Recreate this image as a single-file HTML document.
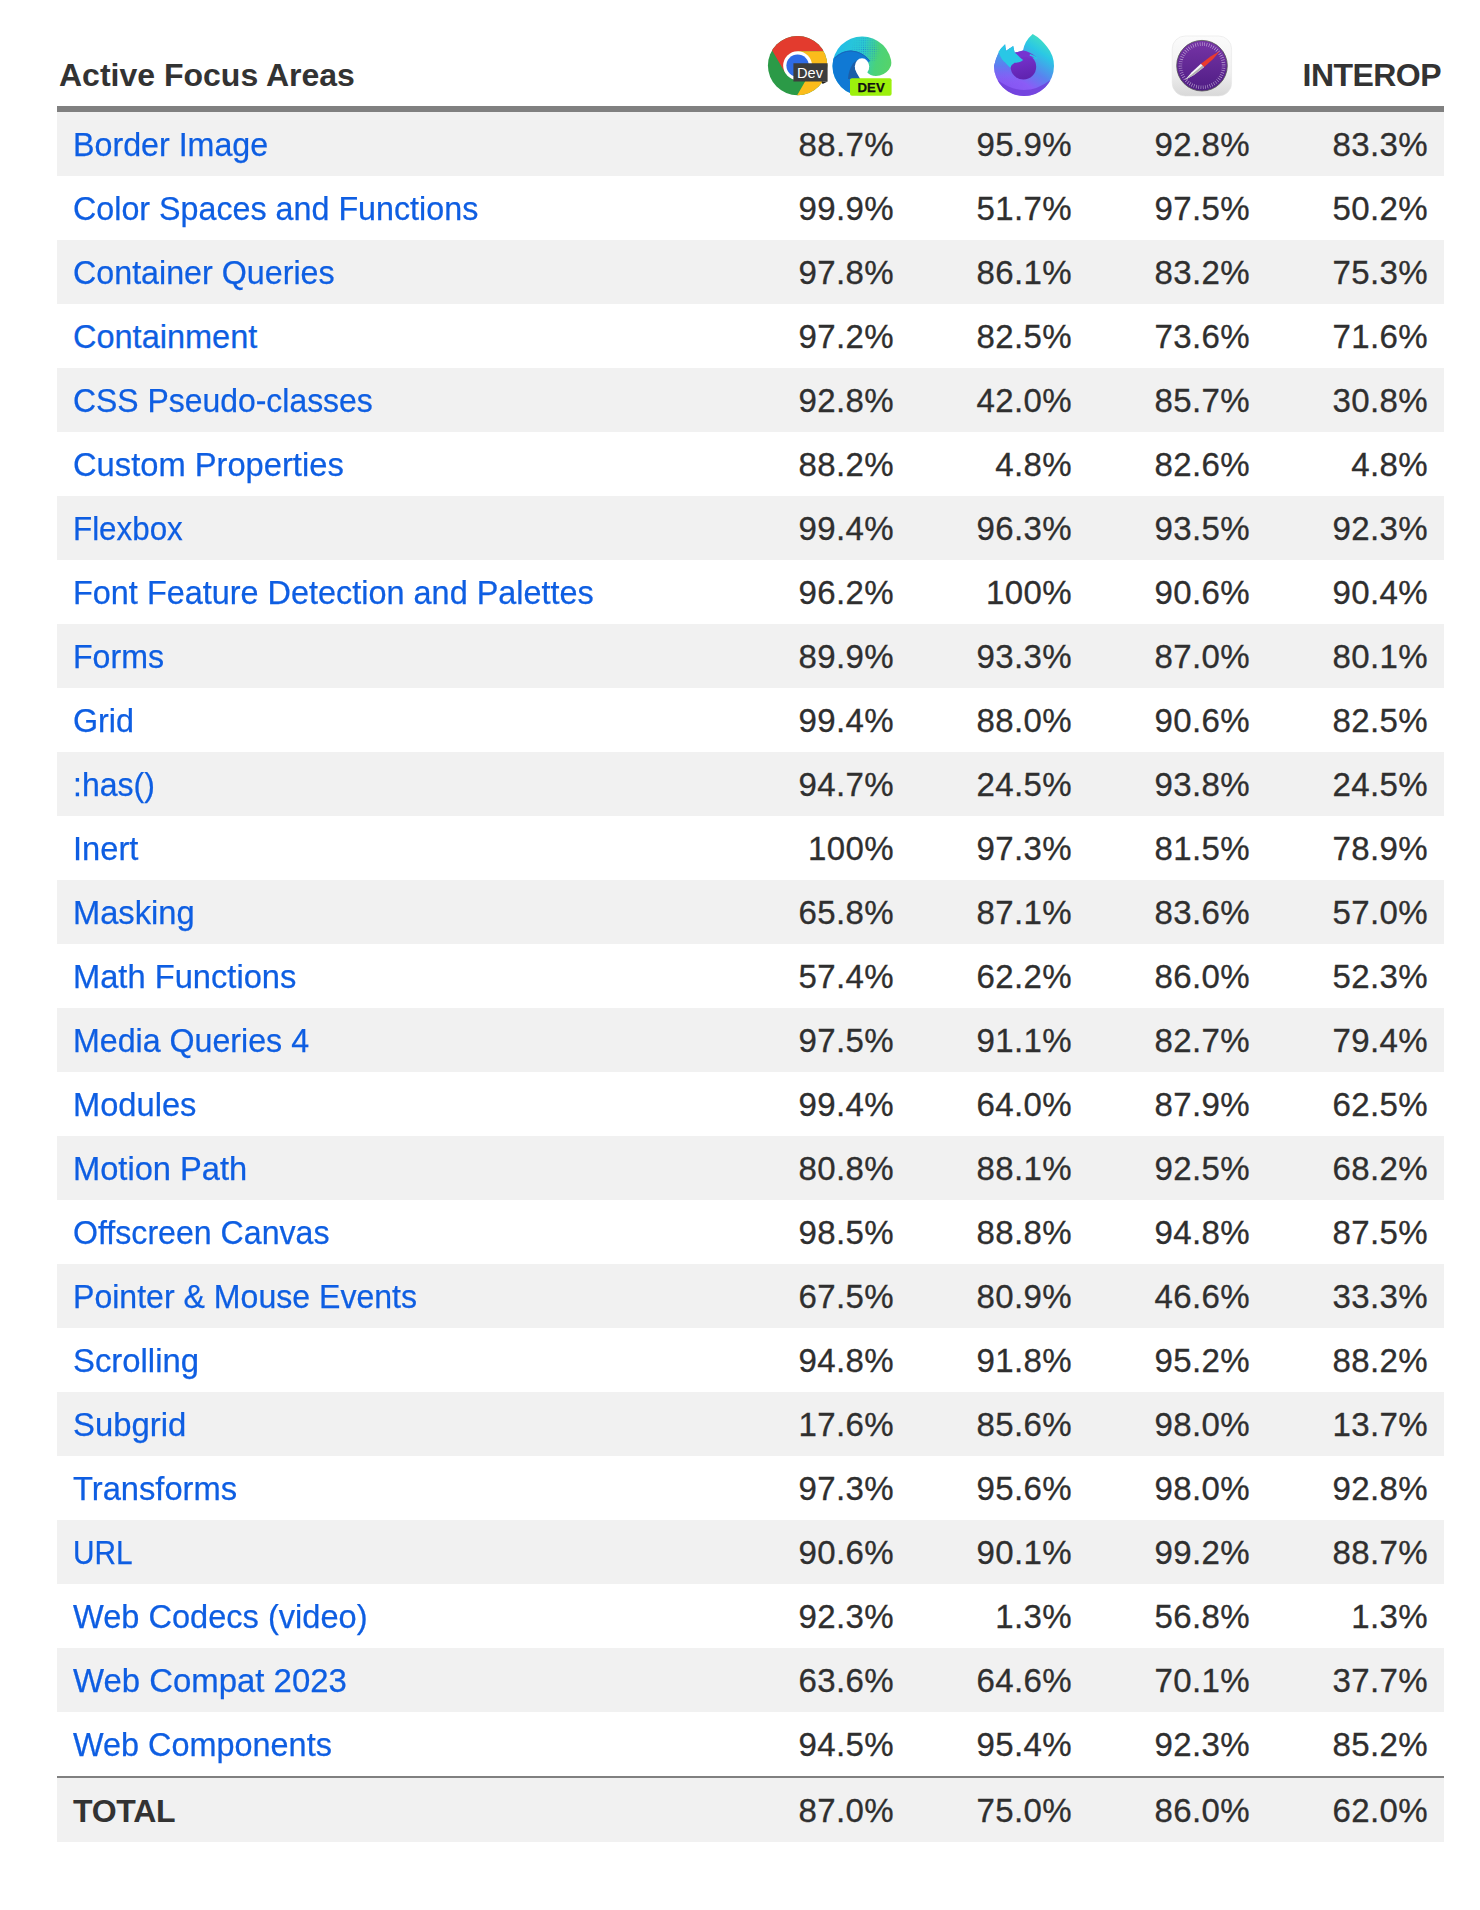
<!DOCTYPE html>
<html><head><meta charset="utf-8">
<style>
html,body{margin:0;padding:0;background:#fff;overflow:hidden;}
body{width:1480px;height:1910px;position:relative;overflow:hidden;font-family:"Liberation Sans",sans-serif;font-size:32px;color:#333;}
.hd{position:absolute;font-weight:bold;color:#333;line-height:1;}
.icons{position:absolute;left:0;top:0;}
.line{position:absolute;left:57px;width:1387px;top:106px;height:6px;background:#808080;}
.tbl{position:absolute;left:57px;top:112px;width:1387px;}
.r{position:relative;height:64px;}
.g{background:#f1f1f1;}
.w{background:#fff;}
.r>*{position:absolute;top:0;line-height:64px;white-space:nowrap;}
.n{-webkit-text-stroke:0.25px #0e5ee2;transform-origin:0 50%;left:16px;color:#0e5ee2;text-decoration:none;letter-spacing:0px;font-size:32.5px;top:1px;}
.tot{border-top:2px solid #808080;}
.tot .n{-webkit-text-stroke:0px;color:#333;font-weight:bold;font-size:32px;letter-spacing:-0.3px;}
.c1,.c2,.c3,.c4{-webkit-text-stroke:0.3px #2f2f2f;top:1px;text-align:right;letter-spacing:0.4px;font-size:33px;color:#2f2f2f;}
.c1{right:550px;}
.c2{right:372px;}
.c3{right:194px;}
.c4{right:16px;}
</style></head><body>
<div class="hd" style="left:59px;top:59px;">Active Focus Areas</div>
<div class="hd" style="right:39px;top:59px;letter-spacing:-0.55px;">INTEROP</div>
<svg class="icons" width="1480" height="106" viewBox="0 0 1480 106">
<defs>
<clipPath id="cc"><circle cx="797.6" cy="65.6" r="29.7"/></clipPath>
<clipPath id="ec"><circle cx="862.1" cy="66" r="29.6"/></clipPath>
<linearGradient id="eg" x1="838" y1="50" x2="890" y2="62" gradientUnits="userSpaceOnUse">
<stop offset="0" stop-color="#22bde7"/><stop offset="0.45" stop-color="#2ccbd0"/><stop offset="0.75" stop-color="#4ad27a"/><stop offset="1" stop-color="#55d36b"/></linearGradient>
<linearGradient id="fg" x1="1046" y1="38" x2="1008" y2="96" gradientUnits="userSpaceOnUse">
<stop offset="0" stop-color="#45e3bf"/><stop offset="0.22" stop-color="#2ac7e5"/><stop offset="0.5" stop-color="#5a82ef"/><stop offset="0.72" stop-color="#8b5cf6"/><stop offset="0.9" stop-color="#8656f2"/><stop offset="1" stop-color="#6d3ed6"/></linearGradient>
<linearGradient id="fs" x1="1020" y1="52" x2="1026" y2="80" gradientUnits="userSpaceOnUse">
<stop offset="0" stop-color="#7a34d2"/><stop offset="1" stop-color="#5e22ad"/></linearGradient>
<linearGradient id="sq" x1="0" y1="36" x2="0" y2="96" gradientUnits="userSpaceOnUse">
<stop offset="0" stop-color="#fbfbfb"/><stop offset="0.6" stop-color="#f0f0f0"/><stop offset="1" stop-color="#d8d8d8"/></linearGradient>
<linearGradient id="sp" x1="0" y1="41" x2="0" y2="91" gradientUnits="userSpaceOnUse">
<stop offset="0" stop-color="#7634a6"/><stop offset="1" stop-color="#4f1d84"/></linearGradient>
<clipPath id="fc"><path d="M994 66 A30 30 0 0 0 1054 66 A30 30 0 0 0 1047.2 47 Q1041 38.5 1032.7 33.9 Q1024.5 41 1023 50.5 L1014.6 52.8 L1013.2 46.1 L1005.9 51 L1005.1 44.2 Q997 52 994 66 Z"/></clipPath>
<linearGradient id="fl" x1="0" y1="50" x2="0" y2="86" gradientUnits="userSpaceOnUse">
<stop offset="0" stop-color="#3aa8ea" stop-opacity="1"/><stop offset="0.45" stop-color="#5f7cf0" stop-opacity="1"/><stop offset="1" stop-color="#8b5cf6" stop-opacity="0"/></linearGradient>
<linearGradient id="flh" x1="990" y1="0" x2="1024" y2="0" gradientUnits="userSpaceOnUse">
<stop offset="0" stop-color="#fff" stop-opacity="1"/><stop offset="0.6" stop-color="#fff" stop-opacity="1"/><stop offset="1" stop-color="#fff" stop-opacity="0"/></linearGradient>
<mask id="fm"><rect x="980" y="30" width="80" height="70" fill="url(#flh)"/></mask>
<pattern id="dots" x="0" y="0" width="2.2" height="2.2" patternUnits="userSpaceOnUse"><circle cx="1.1" cy="1.1" r="0.55" fill="#1c6fd2"/></pattern>
<radialGradient id="dfade" cx="866" cy="50" r="15" gradientUnits="userSpaceOnUse"><stop offset="0" stop-color="#fff" stop-opacity="0.75"/><stop offset="0.6" stop-color="#fff" stop-opacity="0.5"/><stop offset="1" stop-color="#fff" stop-opacity="0"/></radialGradient>
<mask id="dm"><rect x="840" y="30" width="60" height="50" fill="url(#dfade)"/></mask>
</defs>
<!-- Chrome Dev -->
<g clip-path="url(#cc)">
<rect x="760" y="30" width="80" height="80" fill="#2b9a47"/>
<polygon points="797.6,51.15 860,51.15 860,0 743,0 785.09,72.83" fill="#e33b2e"/>
<polygon points="797.6,51.15 860,51.15 860,130 777.1,130 810.11,72.83" fill="#fbbc1b"/>
</g>
<circle cx="797.6" cy="65.6" r="14.45" fill="#fff"/>
<circle cx="797.6" cy="65.6" r="11.2" fill="#2f6be6"/>
<path d="M793.4 63.2 H827.6 V81.6 H793.4 Z" fill="#3d3d3d"/>
<path d="M821.5 81.5 L827.7 81.5 L822.6 83.9 Z" fill="#1e1e1e"/>
<text x="797" y="77.7" font-family="Liberation Sans" font-size="14.6" fill="#fff">Dev</text>
<!-- Edge Dev -->
<g clip-path="url(#ec)">
<rect x="830" y="34" width="66" height="66" fill="url(#eg)"/>
<path d="M830 57.7 L834 57.7 Q842 50.2 851 50.4 Q863 51 870 61 L862 67 L860 79 L850 79 L850 100 L830 100 Z" fill="#1079d4"/>
<path d="M850 36 L892 36 L892 62 L870 62 Q862 51 851 50.5 L850 50 Z" fill="url(#dots)" mask="url(#dm)"/>
<path d="M835 58 Q842 51 851 51 Q862 51.5 869.5 60.5" fill="none" stroke="#1a66b8" stroke-width="1"/>
<path d="M848 79 Q848.5 70 853 63.5 Q856.5 59.5 861 59 L862 67 L860.2 79 Z" fill="#1b5ea8"/>
</g>
<ellipse cx="862" cy="66.6" rx="7.2" ry="8.4" fill="#fff"/>
<path d="M862 61 L869 65 Q869 69.5 867 72 Q870 76 876 76 Q884 75.8 889 69.5 Q891.2 66 892.2 61.5 L900 61.5 L900 79 L860.2 79 Q856 73 855 68 Z" fill="#fff"/>
<rect x="850" y="78.2" width="41.6" height="17.6" rx="2" fill="#9cf00c"/>
<text x="857.6" y="91.7" font-family="Liberation Sans" font-weight="bold" font-size="13.2" fill="#111" stroke="#111" stroke-width="0.25">DEV</text>
<!-- Firefox Nightly -->
<path d="M994 66 A30 30 0 0 0 1054 66 A30 30 0 0 0 1047.2 47 Q1041 38.5 1032.7 33.9 Q1024.5 41 1023 50.5 L1014.6 52.8 L1013.2 46.1 L1005.9 51 L1005.1 44.2 Q997 52 994 66 Z" fill="url(#fg)"/>
<g clip-path="url(#fc)"><rect x="990" y="48" width="40" height="40" fill="url(#fl)" mask="url(#fm)"/></g>
<path d="M997.5 80 A30 30 0 0 0 1050.5 80 Q1024 100 997.5 80 Z" fill="#6f40da" opacity="0.8"/>
<circle cx="1023.4" cy="66.8" r="12.8" fill="url(#fs)"/>
<path d="M1014.6 52.8 L1023 50.5 Q1030 51.5 1036 57 L1030 58 Q1024 56 1020 57.4 Z" fill="#7634d0"/>
<path d="M1030 54 Q1034 55 1037 57.5 L1036.8 59.5 Q1033 56.5 1029.5 55.5 Z" fill="#2ac6e4"/>
<path d="M1005.1 44.2 L1005.9 51 L1013.2 46.1 L1014.6 52.8 Q1017.5 54.5 1020 57.4 Q1022 59 1023.2 60.1 Q1021 62 1018.9 62.3 Q1016.5 62.6 1014.6 62.8 Q1011.5 64.5 1010.3 67.7 Q1007.5 65.5 1005.4 62.8 Q1003 61 1002.2 59.6 Q999.8 55.5 998.4 52 Q1001 47.5 1005.1 44.2 Z" fill="#29c7e6"/>
<!-- Safari TP -->
<rect x="1172.2" y="36" width="59.4" height="60" rx="13" fill="url(#sq)" stroke="#e6e6e6" stroke-width="0.6"/>
<circle cx="1202" cy="65.7" r="25.3" fill="url(#sp)" stroke="#555" stroke-width="0.8"/>
<circle cx="1202" cy="65.7" r="21.6" fill="none" stroke="#e8e0f0" stroke-width="3.6" stroke-dasharray="0.6 1.7" opacity="0.7"/>
<polygon points="1203.87,67.37 1213.13,58.95 1219.90,51.10 1210.92,56.30 1200.93,63.83" fill="#ea3b2e"/>
<polygon points="1203.87,67.37 1193.90,74.88 1184.95,80.06 1191.70,72.22 1200.93,63.83" fill="#f8f8f8"/>
<polygon points="1203.87,67.37 1193.90,74.88 1184.95,80.06 1202.40,65.60" fill="#b0b0b0"/>
</svg>
<div class="line"></div>
<div class="tbl">
<div class="r g"><a class="n" style="transform:scaleX(0.9913)">Border Image</a><span class="c1">88.7%</span><span class="c2">95.9%</span><span class="c3">92.8%</span><span class="c4">83.3%</span></div>
<div class="r w"><a class="n" style="transform:scaleX(0.9926)">Color Spaces and Functions</a><span class="c1">99.9%</span><span class="c2">51.7%</span><span class="c3">97.5%</span><span class="c4">50.2%</span></div>
<div class="r g"><a class="n" style="transform:scaleX(0.9920)">Container Queries</a><span class="c1">97.8%</span><span class="c2">86.1%</span><span class="c3">83.2%</span><span class="c4">75.3%</span></div>
<div class="r w"><a class="n">Containment</a><span class="c1">97.2%</span><span class="c2">82.5%</span><span class="c3">73.6%</span><span class="c4">71.6%</span></div>
<div class="r g"><a class="n" style="transform:scaleX(0.9820)">CSS Pseudo-classes</a><span class="c1">92.8%</span><span class="c2">42.0%</span><span class="c3">85.7%</span><span class="c4">30.8%</span></div>
<div class="r w"><a class="n" style="transform:scaleX(1.0060)">Custom Properties</a><span class="c1">88.2%</span><span class="c2">4.8%</span><span class="c3">82.6%</span><span class="c4">4.8%</span></div>
<div class="r g"><a class="n" style="transform:scaleX(0.9649)">Flexbox</a><span class="c1">99.4%</span><span class="c2">96.3%</span><span class="c3">93.5%</span><span class="c4">92.3%</span></div>
<div class="r w"><a class="n" style="transform:scaleX(0.9975)">Font Feature Detection and Palettes</a><span class="c1">96.2%</span><span class="c2">100%</span><span class="c3">90.6%</span><span class="c4">90.4%</span></div>
<div class="r g"><a class="n" style="transform:scaleX(0.9879)">Forms</a><span class="c1">89.9%</span><span class="c2">93.3%</span><span class="c3">87.0%</span><span class="c4">80.1%</span></div>
<div class="r w"><a class="n" style="transform:scaleX(0.9933)">Grid</a><span class="c1">99.4%</span><span class="c2">88.0%</span><span class="c3">90.6%</span><span class="c4">82.5%</span></div>
<div class="r g"><a class="n" style="transform:scaleX(0.9854)">:has()</a><span class="c1">94.7%</span><span class="c2">24.5%</span><span class="c3">93.8%</span><span class="c4">24.5%</span></div>
<div class="r w"><a class="n" style="transform:scaleX(1.0046)">Inert</a><span class="c1">100%</span><span class="c2">97.3%</span><span class="c3">81.5%</span><span class="c4">78.9%</span></div>
<div class="r g"><a class="n" style="transform:scaleX(1.0050)">Masking</a><span class="c1">65.8%</span><span class="c2">87.1%</span><span class="c3">83.6%</span><span class="c4">57.0%</span></div>
<div class="r w"><a class="n" style="transform:scaleX(1.0050)">Math Functions</a><span class="c1">57.4%</span><span class="c2">62.2%</span><span class="c3">86.0%</span><span class="c4">52.3%</span></div>
<div class="r g"><a class="n" style="transform:scaleX(0.9899)">Media Queries 4</a><span class="c1">97.5%</span><span class="c2">91.1%</span><span class="c3">82.7%</span><span class="c4">79.4%</span></div>
<div class="r w"><a class="n" style="transform:scaleX(1.0041)">Modules</a><span class="c1">99.4%</span><span class="c2">64.0%</span><span class="c3">87.9%</span><span class="c4">62.5%</span></div>
<div class="r g"><a class="n" style="transform:scaleX(1.0047)">Motion Path</a><span class="c1">80.8%</span><span class="c2">88.1%</span><span class="c3">92.5%</span><span class="c4">68.2%</span></div>
<div class="r w"><a class="n" style="transform:scaleX(0.9884)">Offscreen Canvas</a><span class="c1">98.5%</span><span class="c2">88.8%</span><span class="c3">94.8%</span><span class="c4">87.5%</span></div>
<div class="r g"><a class="n" style="transform:scaleX(0.9868)">Pointer &amp; Mouse Events</a><span class="c1">67.5%</span><span class="c2">80.9%</span><span class="c3">46.6%</span><span class="c4">33.3%</span></div>
<div class="r w"><a class="n" style="transform:scaleX(1.0106)">Scrolling</a><span class="c1">94.8%</span><span class="c2">91.8%</span><span class="c3">95.2%</span><span class="c4">88.2%</span></div>
<div class="r g"><a class="n" style="transform:scaleX(1.0108)">Subgrid</a><span class="c1">17.6%</span><span class="c2">85.6%</span><span class="c3">98.0%</span><span class="c4">13.7%</span></div>
<div class="r w"><a class="n" style="transform:scaleX(1.0056)">Transforms</a><span class="c1">97.3%</span><span class="c2">95.6%</span><span class="c3">98.0%</span><span class="c4">92.8%</span></div>
<div class="r g"><a class="n" style="transform:scaleX(0.9169)">URL</a><span class="c1">90.6%</span><span class="c2">90.1%</span><span class="c3">99.2%</span><span class="c4">88.7%</span></div>
<div class="r w"><a class="n" style="transform:scaleX(1.0024)">Web Codecs (video)</a><span class="c1">92.3%</span><span class="c2">1.3%</span><span class="c3">56.8%</span><span class="c4">1.3%</span></div>
<div class="r g"><a class="n" style="transform:scaleX(1.0126)">Web Compat 2023</a><span class="c1">63.6%</span><span class="c2">64.6%</span><span class="c3">70.1%</span><span class="c4">37.7%</span></div>
<div class="r w"><a class="n" style="transform:scaleX(0.9973)">Web Components</a><span class="c1">94.5%</span><span class="c2">95.4%</span><span class="c3">92.3%</span><span class="c4">85.2%</span></div>
<div class="r g tot"><b class="n">TOTAL</b><span class="c1">87.0%</span><span class="c2">75.0%</span><span class="c3">86.0%</span><span class="c4">62.0%</span></div>
</div>
</body></html>
